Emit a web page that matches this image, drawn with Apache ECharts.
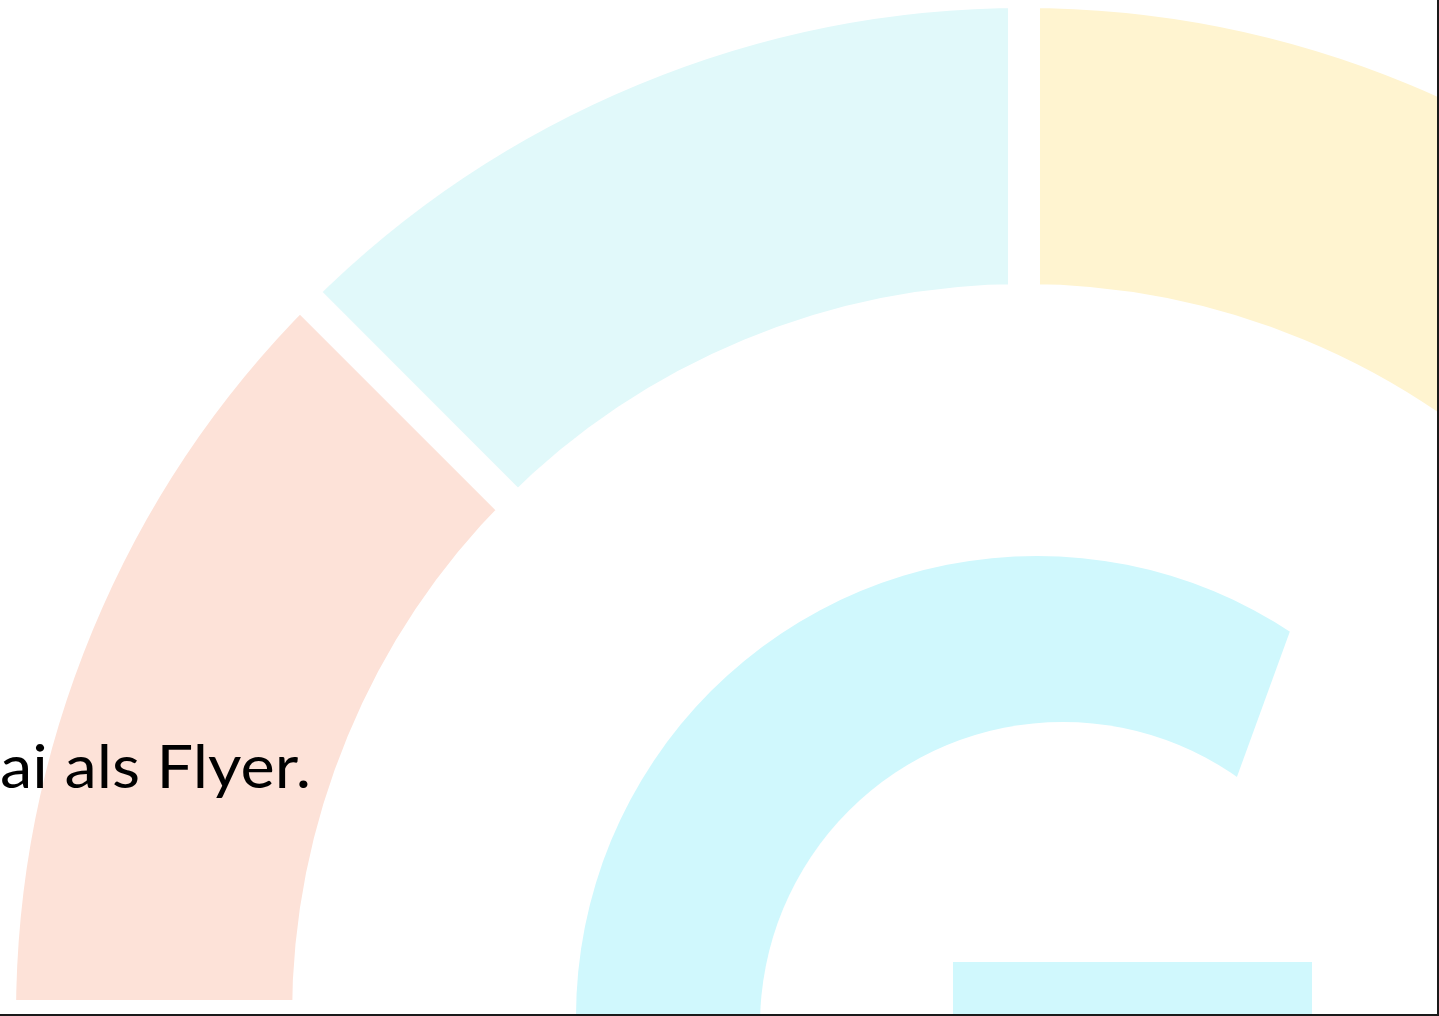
<!DOCTYPE html>
<html>
<head>
<meta charset="utf-8">
<title>Flyer</title>
<script src="https://cdn.jsdelivr.net/npm/echarts@6/dist/echarts.min.js"></script>
<style>
  html, body { margin: 0; padding: 0; background: #fff; }
  #main { width: 1439px; height: 1016px; }
</style>
</head>
<body>
<div id="main"></div>
<script>
// äußerer Ring: Segmente in Grad (im Uhrzeigersinn ab 9 Uhr)
const ringNames = ['Rosa', 'Türkis', 'Gelb', 'Rest'];
const ringSpans = [45, 45, 45, 225];
const ringColors = ['#fde2d8', '#e1f9fa', '#fff4d0', 'transparent'];

// inneres "G"
const gNames = ['G', 'Rest'];
const gSpans = [360];
const gColor = '#d0f8fd';

// Schnittkante am Ende des G (Grad, gegen den Uhrzeigersinn ab 3 Uhr)
const cutSpans = [80, 280];

const caption = 'ai als Flyer.';

var myChart = echarts.init(document.getElementById('main'));

let option = {
  backgroundColor: '#fff',
  animation: false,
  series: [
    {
      // großer Ring
      type: 'pie',
      silent: true,
      z: 1,
      center: [1024, 1016],
      radius: [716, 1024],
      startAngle: 180,
      clockwise: true,
      label: { show: false },
      labelLine: { show: false },
      emphasis: { disabled: true },
      itemStyle: { borderColor: '#fff', borderWidth: 32 },
      data: ringNames.map((n, i) => ({
        name: n,
        value: ringSpans[i],
        itemStyle: i === 3 ? { color: 'transparent', borderWidth: 0 } : { color: ringColors[i] }
      }))
    },
    {
      // G außen
      type: 'pie',
      silent: true,
      z: 2,
      center: [1037, 1017],
      radius: [0, 461],
      label: { show: false },
      labelLine: { show: false },
      emphasis: { disabled: true },
      data: gSpans.map(v => ({ name: gNames[0], value: v, itemStyle: { color: gColor } }))
    },
    {
      // G innen (Loch)
      type: 'pie',
      silent: true,
      z: 3,
      center: [1063, 1025],
      radius: [0, 303],
      label: { show: false },
      labelLine: { show: false },
      emphasis: { disabled: true },
      data: [{ name: 'Loch', value: 1, itemStyle: { color: '#fff' } }]
    },
    {
      // Schnitt am Ende des G
      type: 'pie',
      silent: true,
      z: 4,
      center: [1151, 1013],
      radius: [0, 500],
      startAngle: -10,
      clockwise: false,
      label: { show: false },
      labelLine: { show: false },
      emphasis: { disabled: true },
      data: cutSpans.map((v, i) => ({
        name: 'Schnitt' + i,
        value: v,
        itemStyle: { color: i === 0 ? '#fff' : 'transparent' }
      }))
    }
  ],
  graphic: [
    {
      // Querbalken des G
      type: 'rect',
      z: 10,
      shape: { x: 953, y: 962, width: 359, height: 60 },
      style: { fill: gColor }
    },
    {
      type: 'text',
      z: 11,
      x: 311,
      y: 769,
      scaleX: 1.08,
      style: {
        text: caption,
        x: 0,
        y: 0,
        textAlign: 'right',
        textVerticalAlign: 'middle',
        font: '60px Lato',
        fill: '#000'
      }
    },
    {
      type: 'line',
      z: 12,
      shape: { x1: 1438, y1: 0, x2: 1438, y2: 1016 },
      style: { stroke: '#1a1a1a', lineWidth: 2 }
    },
    {
      type: 'line',
      z: 12,
      shape: { x1: 0, y1: 1015, x2: 1439, y2: 1015 },
      style: { stroke: '#1a1a1a', lineWidth: 2 }
    }
  ]
};

myChart.setOption(option);
</script>
</body>
</html>
